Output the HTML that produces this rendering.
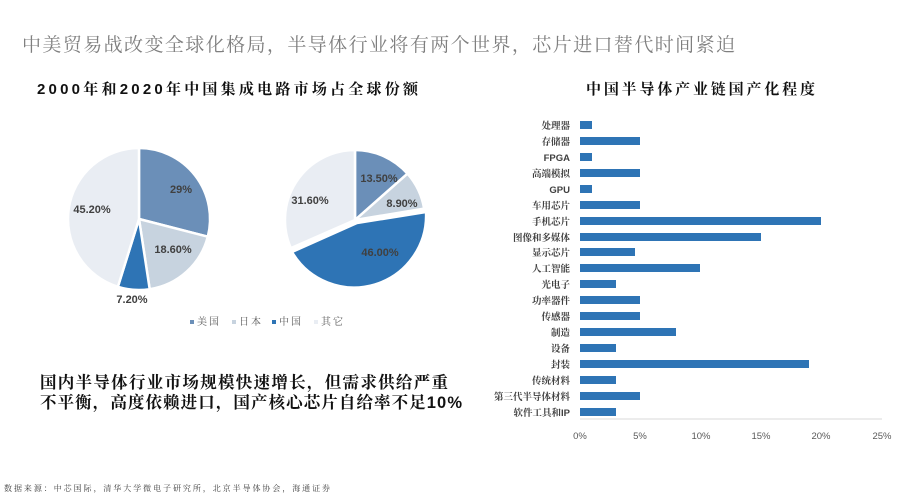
<!DOCTYPE html>
<html><head><meta charset="utf-8"><style>
body{margin:0;background:#fff;}
svg text{font-family:"Liberation Sans","Noto Serif CJK SC","Noto Sans CJK SC",sans-serif;}
</style></head><body>
<svg width="900" height="497" viewBox="0 0 900 497" xmlns="http://www.w3.org/2000/svg">
<rect width="900" height="497" fill="#fff"/>
<text x="22" y="51" font-size="19" fill="#7f7f7f" textLength="713" lengthAdjust="spacing">中美贸易战改变全球化格局，半导体行业将有两个世界，芯片进口替代时间紧迫</text>
<text x="37" y="94" font-size="15" font-weight="bold" fill="#111" textLength="381" lengthAdjust="spacing">2000年和2020年中国集成电路市场占全球份额</text>
<text x="586" y="94" font-size="15" font-weight="bold" fill="#111" textLength="229" lengthAdjust="spacing">中国半导体产业链国产化程度</text>
<g stroke="#fff" stroke-width="2.5" stroke-linejoin="round">
<path d="M139,219 L139,148 A71,71 0 0 1 207.8,236.7 Z" fill="#6b8fb8"/>
<path d="M139,219 L207.8,236.7 A71,71 0 0 1 149.7,289.2 Z" fill="#c7d3df"/>
<path d="M139,219 L149.7,289.2 A71,71 0 0 1 117.9,286.8 Z" fill="#2e74b5"/>
<path d="M139,219 L117.9,286.8 A71,71 0 0 1 139,148 Z" fill="#e9edf3"/>
<path d="M355,220 L355,150 A70,70 0 0 1 407.5,173.7 Z" fill="#6b8fb8"/>
<path d="M355,220 L407.5,173.7 A70,70 0 0 1 424.1,208.6 Z" fill="#c7d3df"/>
<path d="M357,223 L426,212 A72,72 0 0 1 292,252 Z" fill="#2e74b5"/>
<path d="M355,220 L290.9,248.2 A70,70 0 0 1 355,150 Z" fill="#e9edf3"/>
</g>
<g font-size="11" font-weight="bold" fill="#404040" text-anchor="middle">
<text x="181" y="193">29%</text>
<text x="173" y="253">18.60%</text>
<text x="132" y="303">7.20%</text>
<text x="92" y="213">45.20%</text>
<text x="379" y="182">13.50%</text>
<text x="402" y="207">8.90%</text>
<text x="380" y="256">46.00%</text>
<text x="310" y="204">31.60%</text>
</g>
<g font-size="10" fill="#595959">
<rect x="190" y="320" width="4" height="4" fill="#6b8fb8"/><text x="197" y="325" textLength="22">美国</text>
<rect x="232" y="320" width="4" height="4" fill="#c7d3df"/><text x="239" y="325" textLength="22">日本</text>
<rect x="272" y="320" width="4" height="4" fill="#2e74b5"/><text x="279" y="325" textLength="22">中国</text>
<rect x="314" y="320" width="4" height="4" fill="#e9edf3"/><text x="321" y="325" textLength="22">其它</text>
</g>
<text x="40" y="388" font-size="16.5" font-weight="bold" fill="#111" textLength="408" lengthAdjust="spacing">国内半导体行业市场规模快速增长，但需求供给严重</text>
<text x="40" y="408" font-size="16.5" font-weight="bold" fill="#111" textLength="422" lengthAdjust="spacing">不平衡，高度依赖进口，国产核心芯片自给率不足10%</text>
<text x="4" y="491" font-size="8" fill="#404040" textLength="326" lengthAdjust="spacing">数据来源：中芯国际，清华大学微电子研究所，北京半导体协会，海通证券</text>
<line x1="580" y1="419" x2="882" y2="419" stroke="#d9d9d9" stroke-width="1"/>
<g font-size="9.5" fill="#595959" text-anchor="middle">
<text x="580" y="439">0%</text><text x="640" y="439">5%</text><text x="701" y="439">10%</text><text x="761" y="439">15%</text><text x="821" y="439">20%</text><text x="882" y="439">25%</text>
</g>
<g fill="#2e74b5">
<rect x="580" y="121" width="12" height="8"/>
<rect x="580" y="137" width="60" height="8"/>
<rect x="580" y="153" width="12" height="8"/>
<rect x="580" y="169" width="60" height="8"/>
<rect x="580" y="185" width="12" height="8"/>
<rect x="580" y="201" width="60" height="8"/>
<rect x="580" y="217" width="241" height="8"/>
<rect x="580" y="233" width="181" height="8"/>
<rect x="580" y="248" width="55" height="8"/>
<rect x="580" y="264" width="120" height="8"/>
<rect x="580" y="280" width="36" height="8"/>
<rect x="580" y="296" width="60" height="8"/>
<rect x="580" y="312" width="60" height="8"/>
<rect x="580" y="328" width="96" height="8"/>
<rect x="580" y="344" width="36" height="8"/>
<rect x="580" y="360" width="229" height="8"/>
<rect x="580" y="376" width="36" height="8"/>
<rect x="580" y="392" width="60" height="8"/>
<rect x="580" y="408" width="36" height="8"/>
</g>
<g font-size="9.5" fill="#404040" text-anchor="end" font-weight="bold">
<text x="570" y="129">处理器</text>
<text x="570" y="145">存储器</text>
<text x="570" y="161">FPGA</text>
<text x="570" y="177">高端模拟</text>
<text x="570" y="193">GPU</text>
<text x="570" y="209">车用芯片</text>
<text x="570" y="225">手机芯片</text>
<text x="570" y="241">图像和多媒体</text>
<text x="570" y="256">显示芯片</text>
<text x="570" y="272">人工智能</text>
<text x="570" y="288">光电子</text>
<text x="570" y="304">功率器件</text>
<text x="570" y="320">传感器</text>
<text x="570" y="336">制造</text>
<text x="570" y="352">设备</text>
<text x="570" y="368">封装</text>
<text x="570" y="384">传统材料</text>
<text x="570" y="400">第三代半导体材料</text>
<text x="570" y="416">软件工具和IP</text>
</g>
</svg>
</body></html>
